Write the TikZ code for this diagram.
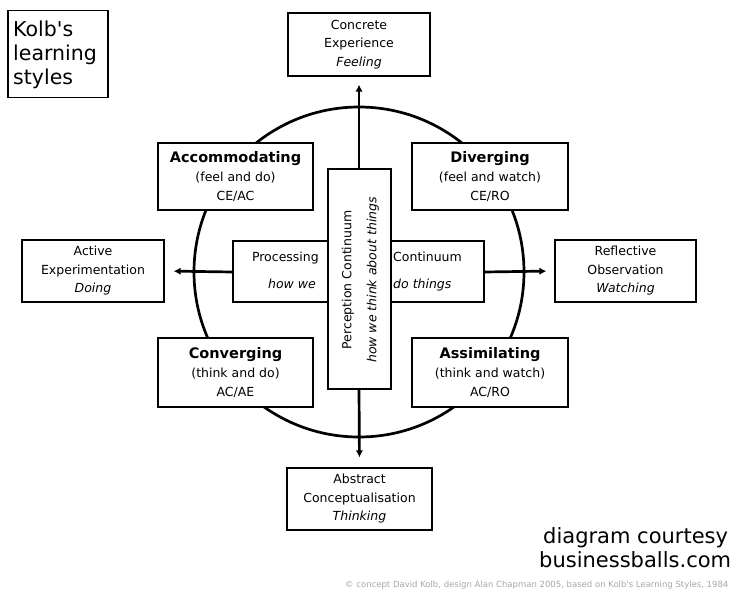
\documentclass[tikz,border=0pt]{standalone}
\usepackage{fontspec}
\setmainfont{DejaVu Sans}
\usetikzlibrary{arrows.meta}
\begin{document}
\begin{tikzpicture}[x=1pt,y=-1pt,
  box/.style={draw=black,line width=1.3pt,fill=white,inner sep=0pt},
  txt/.style={align=center,font=\fontsize{12.5}{18.5}\selectfont,inner sep=0pt},
  big/.style={align=center,font=\fontsize{12.5}{19}\selectfont,inner sep=0pt},
  arr/.style={line width=2.7pt,-{Latex[length=7pt,width=7.5pt]}},
  ring/.style={line width=2.7pt}]
\useasboundingbox (0,0) rectangle (735,589);
% circle
\node[circle,minimum size=330pt,inner sep=0pt,draw=none] (circ) at (359,272) {};
\draw[ring] (circ.center) circle[radius=165pt];
% outer boxes
\node[box,minimum width=100pt,minimum height=87pt] (kolb) at (58,54) {};
\node[align=left,anchor=north west,inner sep=0pt,font=\fontsize{20.5}{24}\selectfont] (kolbt) at (13,21) {Kolb\textquotesingle s\\learning\\styles};
\node[box,minimum width=142pt,minimum height=63pt] (ce) at (359,44.5) {};
\node[txt] (cet) at (ce.center) {Concrete\\Experience\\\textit{Feeling}};
\node[box,minimum width=145pt,minimum height=62pt] (ac) at (359.5,499) {};
\node[txt] (act) at (ac.center) {Abstract\\Conceptualisation\\\textit{Thinking}};
\node[box,minimum width=142pt,minimum height=62pt] (ae) at (93,271) {};
\node[txt] (aet) at (ae.center) {Active\\Experimentation\\\textit{Doing}};
\node[box,minimum width=141pt,minimum height=62pt] (ro) at (625.5,271) {};
\node[txt] (rot) at (ro.center) {Reflective\\Observation\\\textit{Watching}};
% quadrant boxes
\node[box,minimum width=155pt,minimum height=67pt] (acc) at (235.5,176.5) {};
\node[big] at (acc.center) {{\fontsize{14.5}{19}\selectfont\bfseries Accommodating}\\(feel and do)\\CE/AC};
\node[box,minimum width=156pt,minimum height=67pt] (div) at (490,176.5) {};
\node[big] at (div.center) {{\fontsize{14.5}{19}\selectfont\bfseries Diverging}\\(feel and watch)\\CE/RO};
\node[box,minimum width=155pt,minimum height=69pt] (con) at (235.5,372.5) {};
\node[big] at (con.center) {{\fontsize{14.5}{19}\selectfont\bfseries Converging}\\(think and do)\\AC/AE};
\node[box,minimum width=156pt,minimum height=69pt] (ass) at (490,372.5) {};
\node[big] at (ass.center) {{\fontsize{14.5}{19}\selectfont\bfseries Assimilating}\\(think and watch)\\AC/RO};
% arrows
\coordinate (vtop) at (359,169);
\coordinate (vbot) at (359,389);
\coordinate (hl) at (233,272);
\coordinate (hr) at (484,272);
\draw[arr,shorten >=8pt] (vtop) -- (ce.south);
\draw[arr,shorten >=10pt] (vbot) -- (ac.north);
\draw[arr,shorten >=9pt] (hl) -- (ae.east);
\draw[arr,shorten >=8pt] (hr) -- (ro.west);
% processing continuum (horizontal)
\node[box,minimum width=251pt,minimum height=61pt] (proc) at (358.5,271.5) {};
\node[txt,anchor=base east] (p1) at (319,261) {Processing};
\node[txt,anchor=base east,font=\fontsize{12.5}{18.5}\selectfont\itshape] (p2) at (316,288) {how we};
\node[txt,anchor=base west] (p3) at (393,261) {Continuum};
\node[txt,anchor=base west,font=\fontsize{12.5}{18.5}\selectfont\itshape] (p4) at (393,288) {do things};
% perception continuum (vertical)
\node[box,minimum width=63pt,minimum height=220pt] (perc) at (359.5,279) {};
\node[txt,rotate=90] (pc1) at (348,280) {Perception Continuum};
\node[txt,rotate=90,font=\fontsize{12.5}{18.5}\selectfont\itshape] (pc2) at (373,280) {how we think about things};
% credits
\node[anchor=base west,inner sep=0pt,font=\fontsize{21}{24}\selectfont] (dc) at (543,543) {diagram courtesy};
\node[anchor=base west,inner sep=0pt,font=\fontsize{21}{24}\selectfont] (bb) at (539,567) {businessballs.com};
\node[anchor=base west,inner sep=0pt,text=black!35,font=\fontsize{8.5}{10}\selectfont] (cp) at (345,587) {© concept David Kolb, design Alan Chapman 2005, based on Kolb\textquotesingle s Learning Styles, 1984};
\end{tikzpicture}
\end{document}
